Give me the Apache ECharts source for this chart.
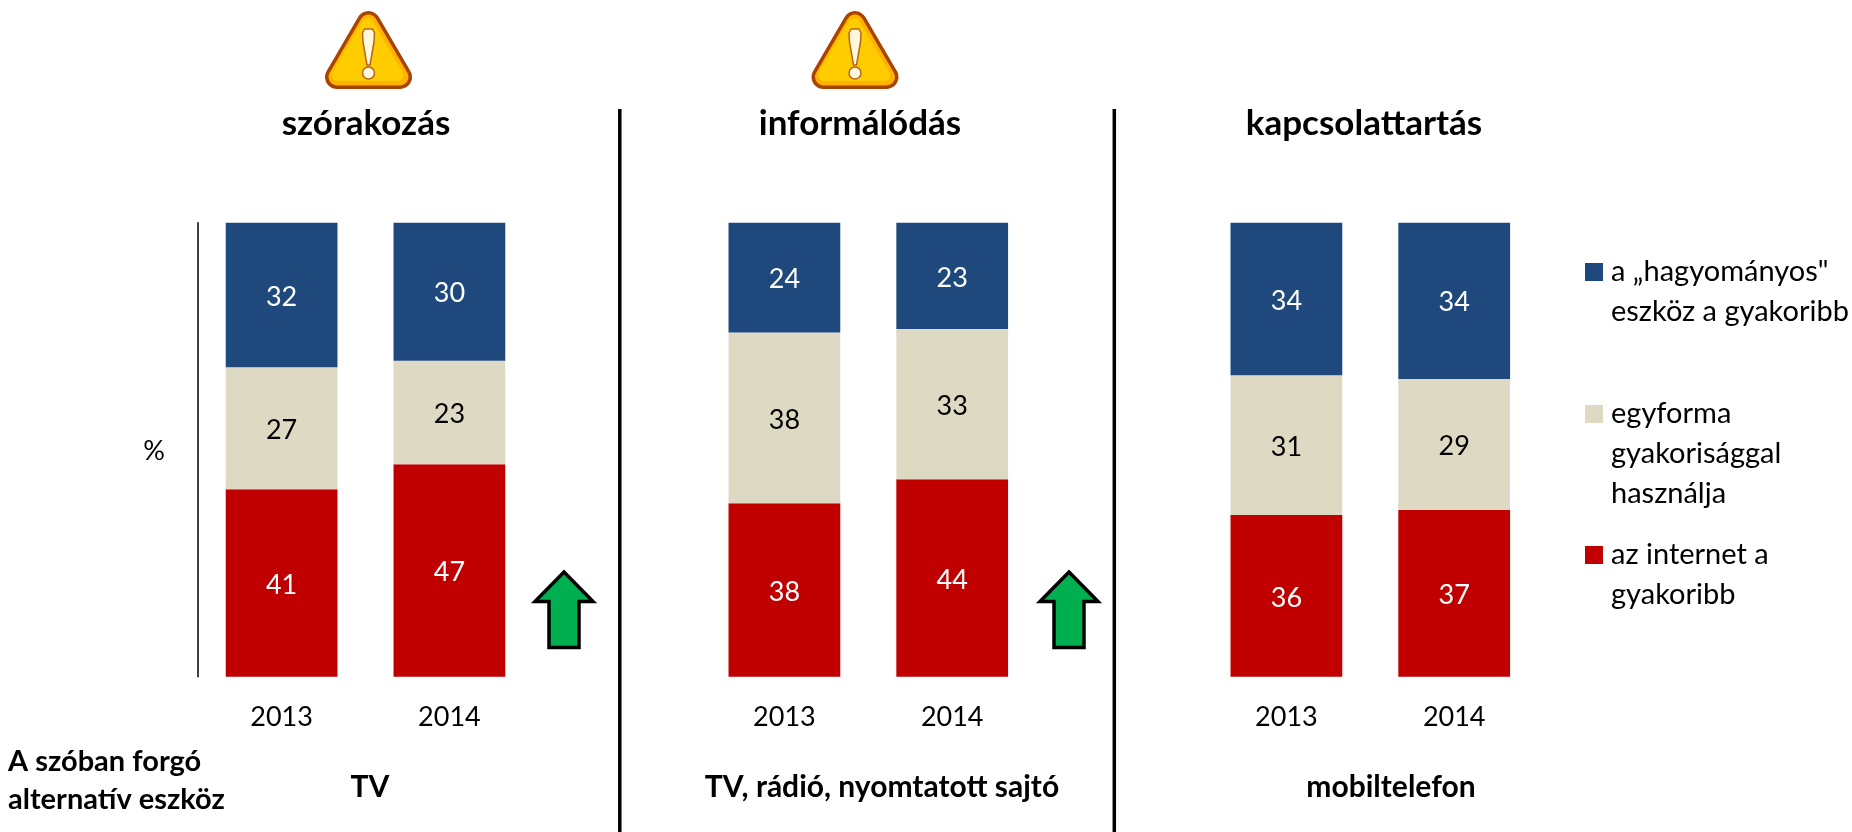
<!DOCTYPE html>
<html><head><meta charset="utf-8">
<style>html,body{margin:0;padding:0;background:#fff}#c{width:1852px;height:832px}</style>
<script src="https://cdn.jsdelivr.net/npm/echarts@6/dist/echarts.min.js"></script>
</head><body><div id="c"></div>
<script>
const years = ['2013', '2014'];
const panelTitles = ['szórakozás', 'informálódás', 'kapcsolattartás'];
const deviceNames = ['TV', 'TV, rádió, nyomtatott sajtó', 'mobiltelefon'];
const seriesNames = ['az internet a\ngyakoribb', 'egyforma\ngyakorisággal\nhasználja', 'a „hagyományos"\neszköz a gyakoribb'];
const internetFirst = [[41.3, 46.8], [38.2, 43.5], [35.6, 36.7]];
const sameFreq = [[26.85, 22.8], [37.6, 33.1], [30.8, 28.9]];
const traditional = [[31.85, 30.4], [24.2, 23.4], [33.6, 34.4]];

const FONT = 'Lato';
const colors = ['#C00000', '#DDD9C3', '#1F497D'];
const labelColors = ['#fff', '#000', '#fff'];
const values = [internetFirst, sameFreq, traditional];
const gridLefts = [197.7, 700.5, 1202.5];
const GW = 335.6;

const grid = gridLefts.map(l => ({left: l, width: GW, top: 222.7, height: 454}));
const xAxis = gridLefts.map((_, i) => ({
  type: 'category', gridIndex: i, data: years,
  axisLine: {show: false}, axisTick: {show: false},
  axisLabel: {fontFamily: FONT, fontSize: 27, color: '#000', margin: 27}
}));
const yAxis = gridLefts.map((_, i) => ({
  type: 'value', gridIndex: i, min: 0, max: 100,
  splitLine: {show: false}, axisTick: {show: false}, axisLabel: {show: false},
  axisLine: {show: i === 0, lineStyle: {color: '#000', width: 1.5}}
}));
const series = [];
gridLefts.forEach((_, p) => seriesNames.forEach((name, s) => series.push({
  type: 'bar', name, xAxisIndex: p, yAxisIndex: p, stack: 'p' + p,
  data: values[s][p], barWidth: '66.6%',
  itemStyle: {color: colors[s]},
  label: {show: true, position: 'inside', offset: [0, 2], fontFamily: FONT, fontSize: 27, color: labelColors[s],
          formatter: d => String(Math.round(d.value))}
})));

const title = panelTitles.map((t, i) => ({
  text: t, left: [366, 860, 1364][i], top: 106, padding: 0, textAlign: 'center',
  textStyle: {fontFamily: FONT, fontWeight: 'bold', fontSize: 35, color: '#000'}
}));

const legendTops = [212, 314, 495];
const legendOrder = [2, 1, 0];
const legend = legendOrder.map((s, i) => ({
  data: [seriesNames[s]], orient: 'vertical', left: 1585, top: legendTops[i], padding: 0,
  itemWidth: 18, itemHeight: 18, icon: 'rect', selectedMode: false,
  formatter: n => '\n'.repeat(n.split('\n').length - 1) + n,
  textStyle: {fontFamily: FONT, fontSize: 29, lineHeight: 40, color: '#000', padding: [0, 0, 0, 3]}
}));

function txt(x, y, text, align, size, bold) {
  return {type: 'text', x, y, style: {text, x: 0, y: 0, align: align, verticalAlign: 'middle',
    fontFamily: FONT, fontSize: size, fontWeight: bold ? 'bold' : 'normal', fill: '#000'}};
}
function vline(x) { return {type: 'line', shape: {x1: x, y1: 109, x2: x, y2: 832}, style: {stroke: '#000', lineWidth: 3.5}}; }
function arrow(x, y) {
  return {type: 'polygon', x, y, shape: {points: [[0, -38.5], [29, -9], [15, -9], [15, 37], [-15, 37], [-15, -9], [-29, -9]]},
    style: {fill: '#00B050', stroke: '#000', lineWidth: 3.5}};
}
function warn(x) {
  const tri = [[0, 23], [31.5, 77], [-31.5, 77]];
  return {type: 'group', x, y: 0, children: [
    {type: 'polygon', shape: {points: tri}, style: {fill: '#A84300', stroke: '#A84300', lineWidth: 24, lineJoin: 'round'}},
    {type: 'polygon', shape: {points: tri}, style: {fill: '#FFB300', stroke: '#FFB300', lineWidth: 17, lineJoin: 'round'}},
    {type: 'polygon', shape: {points: [[-1, 24], [29, 75], [-31, 75]]}, style: {fill: '#FFCC00', stroke: '#FFCC00', lineWidth: 12, lineJoin: 'round'}},
    {type: 'polygon', shape: {points: [[-4, 29], [4, 29], [6, 33], [5.5, 42], [1.5, 65], [-1.5, 65], [-5.5, 42], [-6, 33]]}, style: {fill: '#FFF8DC', stroke: '#B5651D', lineWidth: 1.5, lineJoin: 'round'}},
    {type: 'circle', shape: {cx: 0, cy: 73, r: 6}, style: {fill: '#FFF8DC', stroke: '#B5651D', lineWidth: 1.5}}
  ]};
}
const graphic = [
  vline(619.8), vline(1114.3),
  warn(368.5), warn(855),
  arrow(564, 610.5), arrow(1069, 610.5),
  txt(154, 451, '%', 'center', 27, false),
  txt(8, 762, 'A szóban forgó', 'left', 29, true),
  txt(8, 800, 'alternatív eszköz', 'left', 29, true),
  txt(370, 787, deviceNames[0], 'center', 30, true),
  txt(882, 787, deviceNames[1], 'center', 30, true),
  txt(1391, 787, deviceNames[2], 'center', 30, true)
];

const chart = echarts.init(document.getElementById('c'), null, {renderer: 'canvas'});
chart.setOption({animation: false, backgroundColor: '#fff', grid, xAxis, yAxis, series, title, legend, graphic});
</script></body></html>
